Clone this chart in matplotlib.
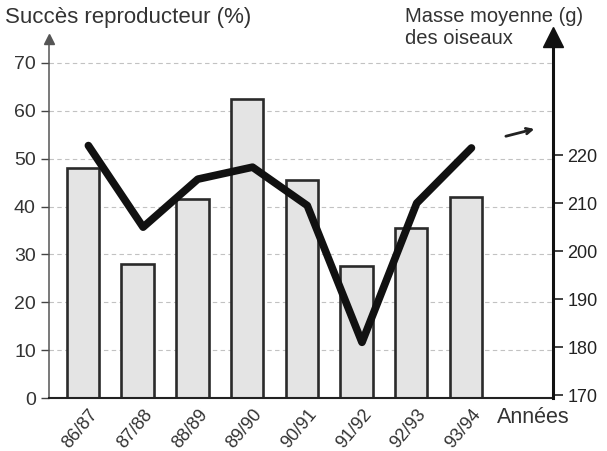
import matplotlib.pyplot as plt
import numpy as np

plt.rcParams['font.family'] = ['Liberation Sans', 'DejaVu Sans']

# Données
annees = ['86/87', '87/88', '88/89', '89/90', '90/91', '91/92', '92/93', '93/94']
succes = [48, 28, 41.5, 62.5, 45.5, 27.5, 35.5, 42]          # %
masse = [222, 205, 215, 217.5, 209.5, 181, 210, 221.5]       # g
graduations_masse = [170, 180, 190, 200, 210, 220]

x = np.arange(len(annees))

fig = plt.figure(figsize=(6.07, 4.51), dpi=100)
ax = fig.add_axes([0.0807, 0.1175, 0.8303, 0.796])

# Barres
ax.bar(x, succes, width=0.59, facecolor='#e4e4e4', edgecolor='#2a2a2a',
       linewidth=1.9, zorder=2)

ax.set_xlim(-0.62, 8.59)
ax.set_ylim(0, 75)
ax.set_yticks(range(0, 80, 10))
ax.tick_params(axis='y', direction='out', length=6, width=1, colors='#444444',
               labelsize=14, labelcolor='#333333')
ax.set_xticks(x + 0.1)
ax.set_xticklabels(annees, rotation=50, ha='right', rotation_mode='anchor',
                   fontsize=13, color='#333333')
ax.tick_params(axis='x', length=0, pad=6)

# Lignes de repère
for v in range(10, 80, 10):
    ax.axhline(v, color='#c2c2c2', lw=0.8, ls=(0, (4, 3)), zorder=1)

ax.spines['top'].set_visible(False)
ax.spines['right'].set_visible(False)
ax.spines['left'].set_color('#555555')
ax.spines['left'].set_linewidth(1.1)
ax.spines['bottom'].set_color('#222222')
ax.spines['bottom'].set_linewidth(1.5)

# Flèche de l'axe gauche
ax.plot([0], [1.0], marker='^', markersize=7, color='#555555',
        transform=ax.transAxes, clip_on=False)

# Axe de droite : masse
ax2 = ax.twinx()
ax2.set_ylim(169.4, 244.2)
ax2.plot(x + 0.1, masse, color='#111111', lw=5.5, solid_capstyle='round',
         solid_joinstyle='round', zorder=3)
ax2.set_yticks(graduations_masse)
ax2.tick_params(axis='y', direction='out', length=7, width=1.2, colors='#222222',
                labelsize=13, labelcolor='#222222')
for s in ['top', 'left', 'bottom']:
    ax2.spines[s].set_visible(False)
ax2.spines['right'].set_color('#111111')
ax2.spines['right'].set_linewidth(2.2)
ax2.plot([1.0], [1.005], marker='^', markersize=14, color='#111111',
         transform=ax2.transAxes, clip_on=False)

# Petite flèche de tendance
ax2.annotate('', xy=(8.3, 225.6), xytext=(7.68, 223.8),
             arrowprops=dict(arrowstyle='->', color='#222222', lw=2))

# Titres
fig.text(0.008, 0.948, 'Succès reproducteur (%)', fontsize=16, color='#333333')
fig.text(0.667, 0.952, 'Masse moyenne (g)', fontsize=14.5, color='#333333')
fig.text(0.667, 0.902, 'des oiseaux', fontsize=14.5, color='#333333')
fig.text(0.818, 0.062, 'Années', fontsize=15.5, color='#333333')

plt.savefig('out.png', dpi=100)
